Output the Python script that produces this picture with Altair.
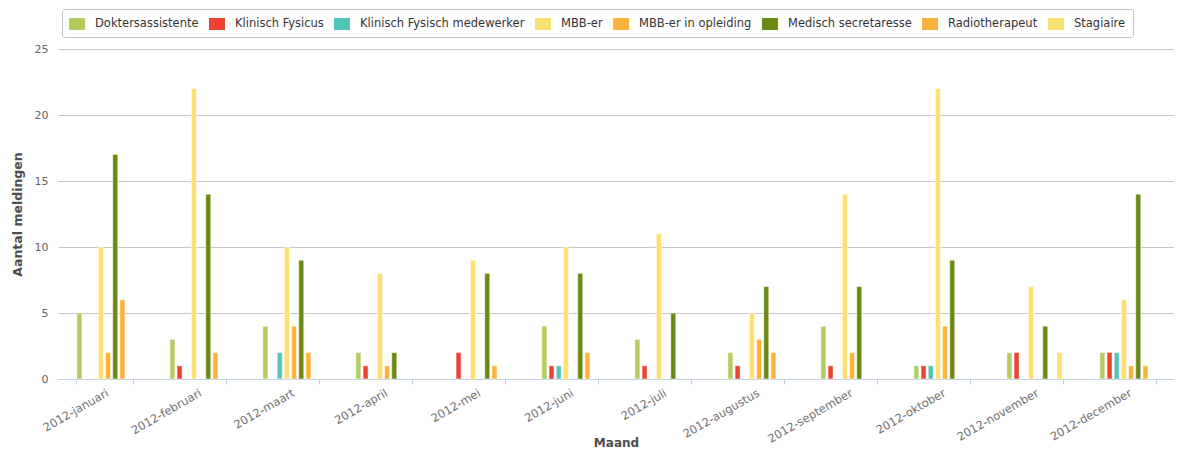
import altair as alt
import pandas as pd

months = ["2012-januari", "2012-februari", "2012-maart", "2012-april", "2012-mei", "2012-juni",
          "2012-juli", "2012-augustus", "2012-september", "2012-oktober", "2012-november", "2012-december"]

series = ["Doktersassistente", "Klinisch Fysicus", "Klinisch Fysisch medewerker", "MBB-er",
          "MBB-er in opleiding", "Medisch secretaresse", "Radiotherapeut", "Stagiaire"]

colors = ["#b3cc60", "#ec4231", "#55c3b9", "#fde071", "#fbb33a", "#6b8a12", "#fbb33a", "#fde071"]

doktersassistente = [5, 3, 4, 2, 0, 4, 3, 2, 4, 1, 2, 2]
klinisch_fysicus = [0, 1, 0, 1, 2, 1, 1, 1, 1, 1, 2, 2]
klinisch_fysisch_medewerker = [0, 0, 2, 0, 0, 1, 0, 0, 0, 1, 0, 2]
mbb_er = [10, 22, 10, 8, 9, 10, 11, 5, 14, 22, 7, 6]
mbb_er_in_opleiding = [2, 0, 4, 1, 0, 0, 0, 3, 2, 4, 0, 1]
medisch_secretaresse = [17, 14, 9, 2, 8, 8, 5, 7, 7, 9, 4, 14]
radiotherapeut = [6, 2, 2, 0, 1, 2, 0, 2, 0, 0, 0, 1]
stagiaire = [0, 0, 0, 0, 0, 0, 0, 0, 0, 0, 2, 0]

values = [doktersassistente, klinisch_fysicus, klinisch_fysisch_medewerker, mbb_er,
          mbb_er_in_opleiding, medisch_secretaresse, radiotherapeut, stagiaire]

rows = []
for s, vals in zip(series, values):
    for m, v in zip(months, vals):
        if v > 0:
            rows.append({"Maand": m, "Functie": s, "Aantal": v})
df = pd.DataFrame(rows)

FONT = "DejaVu Sans"

chart = alt.Chart(df).mark_bar(stroke="white", strokeWidth=0.5).encode(
    x=alt.X("Maand:N", sort=months,
            scale=alt.Scale(domain=months, paddingInner=0.383, paddingOuter=0.1915),
            axis=alt.Axis(title="Maand", labelAngle=-30, labelAlign="right", labelBaseline="top",
                          labelPadding=3, tickBand="extent", tickSize=5, tickColor="#c0d0e0",
                          domainColor="#c0d0e0", grid=False, labelColor="#707070",
                          labelFontSize=11.5, labelFont=FONT, titleFont=FONT, titleFontSize=12,
                          titleFontWeight="bold", titleColor="#4d4d4d",
                          titleBaseline="alphabetic", titleY=67)),
    xOffset=alt.XOffset("Functie:N", sort=series,
                        scale=alt.Scale(domain=series, paddingInner=0.3, paddingOuter=0.15)),
    y=alt.Y("Aantal:Q", scale=alt.Scale(domain=[0, 25]),
            axis=alt.Axis(title="Aantal meldingen", values=[0, 5, 10, 15, 20, 25], domain=False,
                          ticks=False, gridColor="#c8c8c8", labelColor="#666666", labelFontSize=11,
                          labelFont=FONT, labelPadding=10, titleFont=FONT, titleFontSize=12.5,
                          titleFontWeight="bold", titleColor="#4d4d4d", titlePadding=10)),
    color=alt.Color("Functie:N", sort=series,
                    scale=alt.Scale(domain=series, range=colors),
                    legend=alt.Legend(title=None, orient="none", legendX=4, legendY=-40,
                                      direction="horizontal", columns=8,
                                      symbolType="M-1,-0.75H1V0.75H-1Z",
                                      symbolSize=256, symbolStrokeWidth=0, labelFont=FONT,
                                      labelFontSize=11.5, labelColor="#333333", labelOffset=10,
                                      labelLimit=400, columnPadding=10, padding=7,
                                      strokeColor="#c4c4c4", fillColor="white", cornerRadius=2)),
).properties(
    width=1116,
    height=330,
    padding={"left": 50, "top": 41, "right": 0, "bottom": 70},
    autosize=alt.AutoSizeParams(type="none"),
).configure_view(stroke=None)

chart.save("out.html", embed_options={"renderer": "svg", "actions": False})
